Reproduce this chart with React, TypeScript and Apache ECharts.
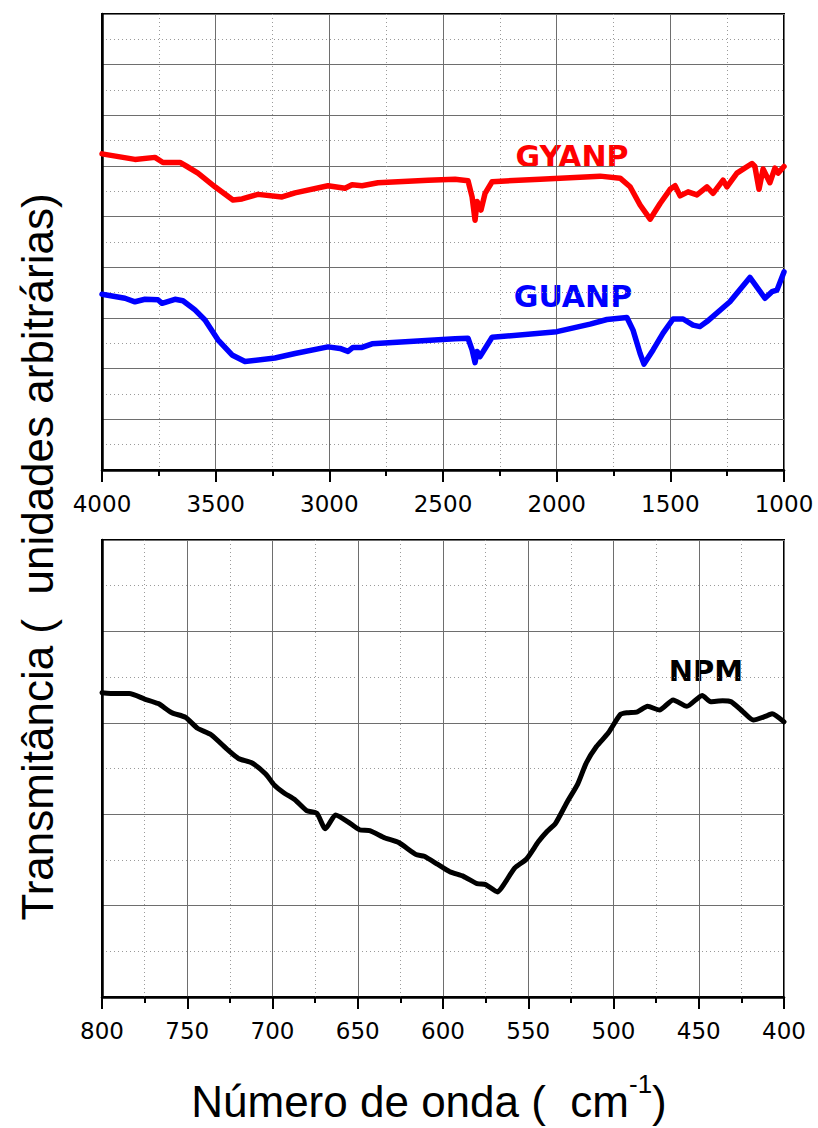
import React, { useEffect, useRef } from "react";
import * as echarts from "echarts";

// Top panel (4000-1000 cm-1)
const topTickLabels = ["4000", "3500", "3000", "2500", "2000", "1500", "1000"];
const gyanpWavenumber = [4000, 3855, 3767, 3732, 3657, 3626, 3578, 3503, 3424, 3384, 3314, 3208, 3151, 3006, 2931, 2900, 2856, 2786, 2566, 2447, 2390, 2372, 2359, 2350, 2333, 2315, 2284, 2073, 1809, 1721, 1677, 1633, 1589, 1545, 1501, 1479, 1457, 1422, 1383, 1339, 1312, 1268, 1251, 1207, 1141, 1128, 1110, 1092, 1062, 1040, 1026, 1000];
const gyanpValue = [6.24, 6.13, 6.17, 6.07, 6.07, 5.99, 5.86, 5.59, 5.33, 5.35, 5.44, 5.39, 5.47, 5.61, 5.56, 5.63, 5.61, 5.67, 5.72, 5.74, 5.71, 5.39, 4.93, 5.3, 5.13, 5.46, 5.69, 5.74, 5.8, 5.76, 5.59, 5.23, 4.95, 5.26, 5.54, 5.61, 5.41, 5.49, 5.43, 5.59, 5.46, 5.72, 5.59, 5.86, 6.05, 5.99, 5.54, 5.94, 5.67, 5.96, 5.86, 5.99];
const guanpWavenumber = [4000, 3899, 3855, 3811, 3754, 3736, 3679, 3644, 3591, 3547, 3490, 3428, 3371, 3239, 3151, 3006, 2953, 2918, 2896, 2856, 2812, 2447, 2390, 2372, 2359, 2350, 2337, 2284, 1999, 1853, 1779, 1691, 1664, 1633, 1616, 1576, 1532, 1488, 1444, 1400, 1370, 1339, 1238, 1150, 1084, 1053, 1031, 1000];
const guanpValue = [3.47, 3.39, 3.32, 3.37, 3.36, 3.29, 3.37, 3.34, 3.16, 2.96, 2.57, 2.27, 2.14, 2.21, 2.3, 2.43, 2.4, 2.34, 2.42, 2.42, 2.49, 2.59, 2.6, 2.37, 2.12, 2.34, 2.24, 2.62, 2.73, 2.88, 2.97, 3.01, 2.76, 2.3, 2.09, 2.37, 2.7, 2.98, 2.98, 2.86, 2.83, 2.93, 3.32, 3.8, 3.39, 3.52, 3.55, 3.91];

// Bottom panel (800-400 cm-1)
const bottomTickLabels = ["800", "750", "700", "650", "600", "550", "500", "450", "400"];
const npmWavenumber = [800, 792, 784, 775, 767, 759, 751, 744, 736, 726, 720, 712, 704, 699, 693, 687, 680, 674, 669, 663, 656, 649, 643, 634, 626, 616, 611, 603, 596, 588, 580, 575, 568, 564, 558, 551, 544, 539, 534, 527, 521, 516, 510, 503, 496, 492, 486, 480, 473, 465, 457, 448, 443, 436, 431, 424, 418, 411, 407, 400];
const npmValue = [3.33, 3.32, 3.32, 3.26, 3.21, 3.11, 3.06, 2.94, 2.87, 2.7, 2.61, 2.56, 2.44, 2.32, 2.23, 2.16, 2.04, 2.01, 1.84, 1.99, 1.92, 1.83, 1.82, 1.74, 1.69, 1.56, 1.54, 1.45, 1.37, 1.32, 1.24, 1.23, 1.15, 1.24, 1.41, 1.51, 1.7, 1.81, 1.9, 2.14, 2.33, 2.56, 2.74, 2.89, 3.09, 3.11, 3.12, 3.18, 3.14, 3.25, 3.18, 3.3, 3.23, 3.24, 3.23, 3.12, 3.03, 3.07, 3.1, 3.01];

const yTitle = "Transmitância (  unidades arbitrárias)";
const xTitleMain = "Número de onda (  cm";
const xTitleSup = "-1";

const pairs = (xs: number[], ys: number[]) => xs.map((x, i) => [x, ys[i]]);

const tickFont = "DejaVu Sans";
const titleFont = "Liberation Sans";

function makeXAxis(gridIndex: number, min: number, max: number, interval: number, labels: string[]) {
  return {
    type: "value",
    gridIndex,
    min,
    max,
    interval,
    inverse: true,
    axisLine: { show: true, onZero: false, lineStyle: { color: "#000", width: 2.5 } },
    axisTick: { show: true, inside: false, length: 12, lineStyle: { color: "#000", width: 2 } },
    minorTick: { show: true, splitNumber: 2, length: 6, lineStyle: { color: "#000", width: 2 } },
    axisLabel: {
      show: true,
      margin: 22,
      color: "#000",
      fontFamily: tickFont,
      fontSize: 23,
      showMinLabel: true,
      showMaxLabel: true,
      formatter: (v: number) => (labels.includes(String(v)) ? String(v) : ""),
    },
    splitLine: { show: true, lineStyle: { color: "#6e6e6e", width: 1 } },
    minorSplitLine: { show: true, lineStyle: { color: "#9a9a9a", width: 1, type: [1, 3] } },
  };
}

function makeYAxis(gridIndex: number, max: number) {
  return {
    type: "value",
    gridIndex,
    min: 0,
    max,
    interval: 1,
    axisLine: { show: true, onZero: false, lineStyle: { color: "#000", width: 2.5 } },
    axisTick: { show: false },
    axisLabel: { show: false },
    minorTick: { show: false, splitNumber: 2 },
    splitLine: { show: true, lineStyle: { color: "#6e6e6e", width: 1 } },
    minorSplitLine: { show: true, lineStyle: { color: "#9a9a9a", width: 1, type: [1, 3] } },
  };
}

export default function App() {
  const ref = useRef<HTMLDivElement>(null);
  useEffect(() => {
    if (!ref.current) return;
    const chart = echarts.init(ref.current, null, { renderer: "svg" });
    chart.setOption({
      animation: false,
      backgroundColor: "#fff",
      grid: [
        { left: 102, top: 14, width: 682, height: 456, show: true, borderColor: "#000", borderWidth: 2, backgroundColor: "transparent" },
        { left: 102, top: 540, width: 682, height: 457, show: true, borderColor: "#000", borderWidth: 2, backgroundColor: "transparent" },
      ],
      xAxis: [
        makeXAxis(0, 1000, 4000, 500, topTickLabels),
        makeXAxis(1, 400, 800, 50, bottomTickLabels),
      ],
      yAxis: [makeYAxis(0, 9), makeYAxis(1, 5)],
      series: [
        {
          name: "GYANP",
          type: "line",
          xAxisIndex: 0,
          yAxisIndex: 0,
          data: pairs(gyanpWavenumber, gyanpValue),
          showSymbol: false,
          lineStyle: { color: "#ff0000", width: 5.5, cap: "round", join: "round" },
          itemStyle: { color: "#ff0000" },
          silent: true,
        },
        {
          name: "GUANP",
          type: "line",
          xAxisIndex: 0,
          yAxisIndex: 0,
          data: pairs(guanpWavenumber, guanpValue),
          showSymbol: false,
          lineStyle: { color: "#0000ff", width: 5.5, cap: "round", join: "round" },
          itemStyle: { color: "#0000ff" },
          silent: true,
        },
        {
          name: "NPM",
          type: "line",
          xAxisIndex: 1,
          yAxisIndex: 1,
          data: pairs(npmWavenumber, npmValue),
          showSymbol: false,
          smooth: 0.2,
          lineStyle: { color: "#000", width: 5, cap: "round", join: "round" },
          itemStyle: { color: "#000" },
          silent: true,
        },
      ],
      graphic: [
        {
          type: "text",
          x: 572,
          y: 156,
          style: { text: "GYANP", fill: "#ff0000", font: "bold 30px 'DejaVu Sans'", textAlign: "center", textVerticalAlign: "middle" },
        },
        {
          type: "text",
          x: 573,
          y: 296,
          style: { text: "GUANP", fill: "#0000ff", font: "bold 30px 'DejaVu Sans'", textAlign: "center", textVerticalAlign: "middle" },
        },
        {
          type: "text",
          x: 706,
          y: 671,
          style: { text: "NPM", fill: "#000", font: "bold 29px 'DejaVu Sans'", textAlign: "center", textVerticalAlign: "middle" },
        },
        {
          type: "text",
          x: 37,
          y: 557,
          rotation: Math.PI / 2,
          style: { text: yTitle, fill: "#000", font: `44px '${titleFont}'`, textAlign: "center", textVerticalAlign: "middle" },
        },
        {
          type: "text",
          x: 429,
          y: 1097,
          style: {
            text: `{a|${xTitleMain}}{b|${xTitleSup}}{a|)}`,
            textAlign: "center",
            textVerticalAlign: "middle",
            rich: {
              a: { fontFamily: titleFont, fontSize: 44, lineHeight: 52, fill: "#000", color: "#000", verticalAlign: "bottom" },
              b: { fontFamily: titleFont, fontSize: 26, lineHeight: 52, fill: "#000", color: "#000", verticalAlign: "top" },
            },
          },
        },
      ],
    });
    return () => chart.dispose();
  }, []);
  return <div ref={ref} style={{ position: "absolute", left: 0, top: 0, width: 818, height: 1128 }} />;
}
